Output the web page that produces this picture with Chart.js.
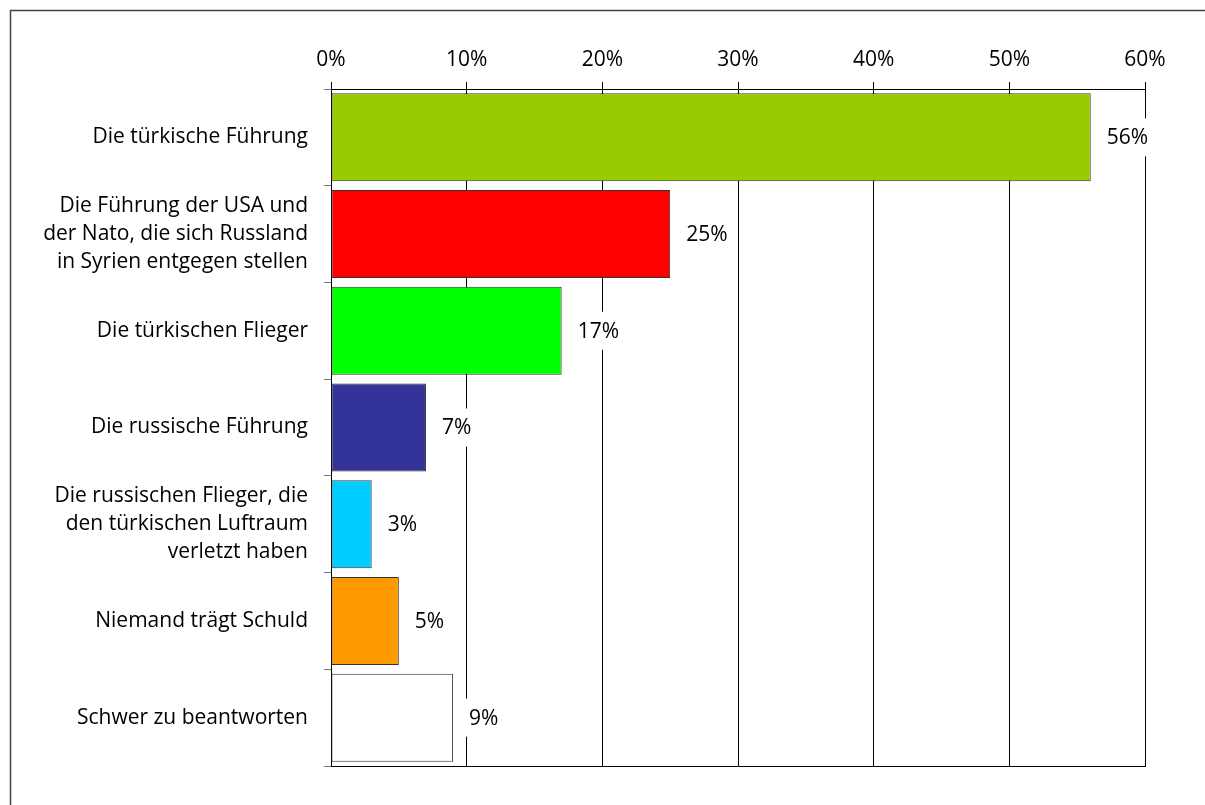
<!DOCTYPE html>
<html lang="de">
<head>
<meta charset="utf-8">
<title>Schuldfrage</title>
<script src="https://cdn.jsdelivr.net/npm/chart.js@4/dist/chart.umd.min.js"></script>
<style>
  html, body { margin: 0; padding: 0; background: #fff; }
  #wrap { width: 1205px; height: 805px; position: relative; }
</style>
</head>
<body>
<div id="wrap"><canvas id="chart"></canvas></div>
<script>
const categories = [
  'Die türkische Führung',
  ['Die Führung der USA und', 'der Nato, die sich Russland', 'in Syrien entgegen stellen'],
  'Die türkischen Flieger',
  'Die russische Führung',
  ['Die russischen Flieger, die', 'den türkischen Luftraum', 'verletzt haben'],
  'Niemand trägt Schuld',
  'Schwer zu beantworten',
];
const values = [56, 25, 17, 7, 3, 5, 9];
const barColors = ['#99cc00', '#ff0000', '#00ff00', '#333399', '#00ccff', '#ff9900', '#ffffff'];
const tickValues = [0, 10, 20, 30, 40, 50, 60];

const FONT = { family: '"Open Sans", "Noto Sans", sans-serif', size: 21 };

// outer frame: only top and left edges fall inside the canvas
const framePlugin = {
  id: 'frame',
  beforeDraw(chart) {
    const { ctx } = chart;
    ctx.save();
    ctx.strokeStyle = '#444';
    ctx.lineWidth = 1.5;
    ctx.beginPath();
    ctx.moveTo(10.5, chart.height);
    ctx.lineTo(10.5, 10.5);
    ctx.lineTo(chart.width, 10.5);
    ctx.stroke();
    ctx.restore();
  },
};

// percentage labels right of each bar, on a white box that cuts the grid
const valueLabelPlugin = {
  id: 'valueLabels',
  afterDatasetsDraw(chart) {
    const { ctx } = chart;
    const meta = chart.getDatasetMeta(0);
    ctx.save();
    ctx.font = `${FONT.size}px ${FONT.family}`;
    ctx.textBaseline = 'middle';
    ctx.textAlign = 'left';
    meta.data.forEach((bar, i) => {
      const text = values[i] + '%';
      const x = bar.x + 16;
      const w = ctx.measureText(text).width;
      ctx.fillStyle = '#fff';
      ctx.fillRect(x - 4, bar.y - 19, w + 8, 38);
      ctx.fillStyle = '#000';
      ctx.fillText(text, x, bar.y + 1);
    });
    ctx.restore();
  },
};

new Chart(document.getElementById('chart'), {
  type: 'bar',
  data: {
    labels: categories,
    datasets: [{
      data: values,
      backgroundColor: barColors,
      borderColor: '#333',
      borderWidth: 1,
      borderSkipped: false,
      barPercentage: 0.91,
      categoryPercentage: 1,
    }],
  },
  options: {
    indexAxis: 'y',
    responsive: true,
    maintainAspectRatio: false,
    animation: false,
    layout: { padding: { top: 0, left: 0, right: 60, bottom: 39 } },
    plugins: {
      legend: { display: false },
      tooltip: { enabled: false },
    },
    scales: {
      x: {
        position: 'top',
        min: 0,
        max: 60,
        afterBuildTicks: (scale) => {
          scale.ticks = tickValues.map(v => ({ value: v }));
        },
        afterFit: (scale) => { scale.height = 89; },
        grid: { color: '#000', lineWidth: 1, tickLength: 7 },
        border: { display: true, color: '#000', width: 1 },
        ticks: {
          color: '#000',
          font: FONT,
          padding: 9,
          callback: v => v + '%',
        },
      },
      // bottom axis only supplies the closing line of the plot
      xBottom: {
        type: 'linear',
        axis: 'x',
        position: 'bottom',
        min: 0,
        max: 60,
        afterFit: (scale) => { scale.height = 0; },
        grid: { display: false, drawTicks: false },
        border: { display: true, color: '#000', width: 1 },
        ticks: { display: false },
      },
      y: {
        afterFit: (scale) => { scale.width = 331; },
        grid: {
          offset: true,
          drawOnChartArea: false,
          color: '#777',
          tickLength: 7,
        },
        border: { display: true, color: '#000', width: 1 },
        ticks: {
          color: '#000',
          font: { ...FONT, lineHeight: 1.33 },
          padding: 16,
        },
      },
    },
  },
  plugins: [framePlugin, valueLabelPlugin],
});
</script>
</body>
</html>
